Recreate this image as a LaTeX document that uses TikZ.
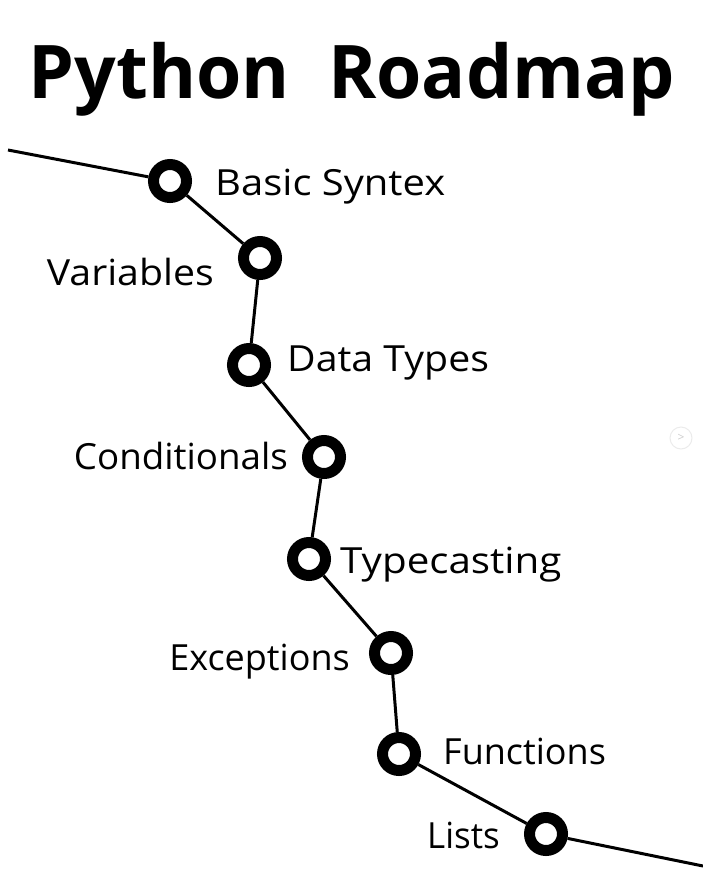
\documentclass[tikz,border=0pt]{standalone}
\usepackage{fontspec}
\setmainfont{Open Sans}

\begin{document}
\begin{tikzpicture}[x=1pt,y=-1pt,
  stop/.style={circle,draw,line width=11pt,fill=white,minimum size=33pt,inner sep=0pt},
  lbl/.style={font=\fontsize{36}{40}\selectfont,inner sep=0pt},
  road/.style={line width=3pt}]
\useasboundingbox (0,0) rectangle (703,879);
\node[anchor=base,inner sep=0pt,xscale=0.99,font=\bfseries\fontsize{74}{80}\selectfont] (title) at (352,98) {Python\ \ Roadmap};
% stops
\node[stop] (bs) at (170,181) {};
\node[stop] (var) at (260,258) {};
\node[stop] (dt) at (249,365) {};
\node[stop] (cond) at (324,457) {};
\node[stop] (tc) at (309,559) {};
\node[stop] (exc) at (391,653) {};
\node[stop] (fn) at (399,754) {};
\node[stop] (lst) at (546,834) {};
\coordinate (start) at (8,150);
\coordinate (end) at (703,866);
% road
\draw[road] (start) -- (bs) -- (var) -- (dt) -- (cond) -- (tc) -- (exc) -- (fn) -- (lst) -- (end);
% labels
\node[lbl,anchor=base west,xscale=1.11] (lbs) at (215,195) {Basic Syntex};
\node[lbl,anchor=base east,xscale=1.09] (lvar) at (214,285) {Variables};
\node[lbl,anchor=base west,xscale=1.09] (ldt) at (287,371) {Data Types};
\node[lbl,anchor=base east,xscale=1.02] (lcond) at (288,469) {Conditionals};
\node[lbl,anchor=base west,xscale=1.12] (ltc) at (340,573) {Typecasting};
\node[lbl,anchor=base east] (lexc) at (350,670) {Exceptions};
\node[lbl,anchor=base west] (lfn) at (443,764) {Functions};
\node[lbl,anchor=base east,xscale=0.97] (llst) at (500,848) {Lists};
% faint next button
\node[circle,draw=black!8,line width=1pt,minimum size=22pt,inner sep=0pt,text=black!20,font=\fontsize{12}{12}\selectfont] (next) at (681,438) {>};
\end{tikzpicture}
\end{document}
